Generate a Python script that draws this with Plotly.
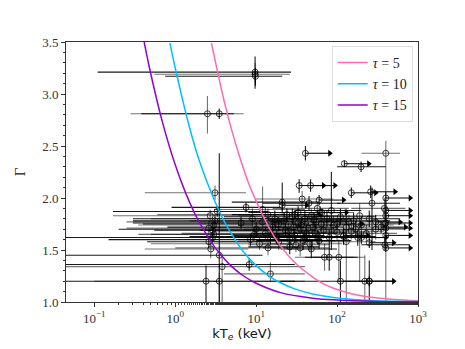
import plotly.graph_objects as go

# model curves
tau5_kte = [2.8, 3, 4, 5, 6, 8, 10, 15, 20, 30, 50, 70, 100, 150, 200, 300, 500, 1000]
tau5_gam = [3.49, 3.38, 2.94, 2.65, 2.44, 2.15, 1.97, 1.69, 1.54, 1.38, 1.24, 1.17, 1.12, 1.08, 1.06, 1.04, 1.025, 1.013]
tau10_kte = [0.86, 1, 1.5, 2, 3, 4, 5, 7, 10, 15, 20, 30, 50, 100, 200, 500, 1000]
tau10_gam = [3.49, 3.25, 2.68, 2.35, 1.99, 1.78, 1.65, 1.48, 1.35, 1.24, 1.185, 1.126, 1.077, 1.039, 1.02, 1.008, 1.004]
tau15_kte = [0.413, 0.5, 0.7, 1, 1.5, 2, 3, 4, 5, 7, 10, 20, 50, 100, 300, 1000]
tau15_gam = [3.5, 3.19, 2.72, 2.32, 1.96, 1.76, 1.54, 1.42, 1.34, 1.25, 1.18, 1.09, 1.037, 1.019, 1.006, 1.002]

# measured points: kTe with lower/upper bound, Gamma with lower/upper bound
det_kte = [9.7, 9.7, 9.8, 2.5, 3.5,
           3.1, 3.3, 2.7, 3.1, 2.6, 2.9, 3.0, 2.6, 2.75, 3.5, 3.8, 2.4, 3.5, 2.9, 3.0,
           7.5, 12, 21, 37, 45, 14, 17, 22, 28, 33, 40, 48, 55, 62, 75, 90, 110, 130, 160, 200,
           250, 300, 10, 13, 16, 25, 30, 35, 42, 50, 58, 68, 80, 100, 120, 150, 180, 230, 8.5, 11,
           15, 19, 26, 31, 38, 46, 60, 14, 26, 35, 48, 70, 80, 105, 8.2, 15, 110, 220, 250, 130,
           85, 400, 198, 190, 270, 385, 390, 390, 6.5, 9,
           36, 44, 52, 29, 23, 64, 19, 12, 40, 53, 33, 57, 24, 9.5, 18, 140, 170]
det_kte_lo = [0.11, 0.55, 0.75, 0.28, 0.38,
              0.42, 0.17, 0.17, 0.3, 0.25, 0.55, 0.5, 0.45, 0.42, 0.02, 0.02, 0.02, 0.1, 0.02, 0.35,
              0.9, 3, 5, 10, 12, 0.6, 0.3, 1.5, 4, 2, 8, 6, 15, 20, 25, 30, 40, 50, 60, 80,
              100, 120, 0.2, 1.2, 0.8, 3, 5, 7, 9, 12, 16, 20, 25, 30, 40, 50, 70, 90, 0.15, 0.5,
              2, 3, 6, 8, 10, 12, 15, 1, 8, 12, 20, 30, 40, 50, 0.02, 4, 20, 100, 120, 40,
              30, 200, 100, 60, 100, 150, 200, 200, 0.3, 0.5,
              6, 10, 14, 3, 2, 18, 0.4, 0.25, 9, 13, 8, 16, 5, 0.35, 1.5, 50, 60]
det_kte_hi = [27, 26, 21, 7.0, 5.3,
              7.5, 14, 9, 25, 12, 20, 30, 15, 8, 12, 40, 30, 40, 25, 9,
              20, 40, 60, 90, 110, 30, 45, 50, 70, 80, 100, 120, 140, 160, 200, 250, 300, 400, 450, 500,
              600, 700, 30, 35, 40, 60, 70, 85, 100, 120, 140, 170, 200, 250, 300, 380, 420, 550, 25, 30,
              40, 50, 65, 80, 95, 115, 150, 35, 60, 80, 100, 160, 180, 220, 30, 40, 260, 500, 500, 300,
              200, 600, 400, 450, 600, 700, 800, 700, 20, 25,
              90, 100, 130, 75, 55, 150, 45, 30, 100, 130, 80, 140, 60, 22, 45, 350, 420]
det_gam = [3.21, 3.19, 3.17, 2.81, 2.81,
           2.05, 1.87, 1.83, 1.78, 1.71, 1.69, 1.65, 1.58, 1.51, 1.45, 1.34, 1.2, 1.2, 1.62, 1.74,
           1.91, 1.89, 1.96, 1.99, 1.95, 1.84, 1.80, 1.78, 1.82, 1.76, 1.80, 1.83, 1.77, 1.86, 1.80, 1.74, 1.82, 1.72, 1.78, 1.74,
           1.80, 1.70, 1.70, 1.66, 1.72, 1.68, 1.64, 1.70, 1.66, 1.72, 1.63, 1.69, 1.62, 1.67, 1.63, 1.68, 1.62, 1.66, 1.60, 1.56,
           1.62, 1.58, 1.60, 1.55, 1.59, 1.56, 1.59, 1.52, 1.53, 1.52, 1.51, 1.43, 1.43, 1.43, 1.36, 1.27, 1.2, 1.2, 1.2, 1.58,
           1.88, 2.43, 2.30, 1.83, 1.95, 1.9, 1.55, 1.75, 1.76, 1.80,
           1.74, 1.71, 1.79, 1.72, 1.69, 1.75, 1.75, 1.77, 1.62, 1.67, 1.86, 1.90, 1.84, 1.65, 1.63, 1.77, 1.70]
det_gam_lo = [3.05, 3.10, 3.08, 2.62, 2.76,
              1.98, 1.82, 1.77, 1.72, 1.65, 1.63, 1.58, 1.52, 1.42, 1.0, 1.0, 1.0, 1.0, 1.57, 1.69,
              1.86, 1.80, 1.85, 1.90, 1.88, 1.78, 1.72, 1.70, 1.75, 1.68, 1.73, 1.76, 1.70, 1.80, 1.72, 1.65, 1.74, 1.60, 1.70, 1.65,
              1.72, 1.60, 1.63, 1.60, 1.66, 1.60, 1.57, 1.62, 1.58, 1.64, 1.55, 1.61, 1.55, 1.59, 1.55, 1.60, 1.54, 1.58, 1.54, 1.50,
              1.55, 1.50, 1.52, 1.48, 1.50, 1.48, 1.51, 1.45, 1.46, 1.44, 1.42, 1.30, 1.30, 1.20, 1.30, 1.20, 1.0, 1.0, 1.0, 1.0,
              1.50, 1.0, 2.25, 1.20, 1.50, 1.80, 1.50, 1.70, 1.70, 1.72,
              1.66, 1.64, 1.72, 1.64, 1.62, 1.68, 1.68, 1.70, 1.55, 1.60, 1.80, 1.84, 1.78, 1.58, 1.56, 1.70, 1.62]
det_gam_hi = [3.36, 3.30, 3.25, 2.98, 2.86,
              2.12, 1.92, 1.89, 1.84, 1.78, 1.76, 1.72, 1.64, 1.58, 2.43, 1.45, 1.35, 1.28, 1.67, 1.79,
              1.96, 2.11, 2.15, 2.07, 2.02, 1.90, 1.88, 1.86, 1.90, 1.84, 1.88, 1.90, 1.85, 1.92, 1.88, 1.83, 1.90, 1.85, 1.86, 1.83,
              1.88, 1.80, 1.77, 1.72, 1.80, 1.76, 1.71, 1.78, 1.74, 1.80, 1.70, 1.77, 1.70, 1.75, 1.71, 1.76, 1.70, 1.74, 1.66, 1.62,
              1.70, 1.66, 1.68, 1.62, 1.68, 1.64, 1.67, 1.58, 1.60, 1.60, 1.58, 1.56, 1.55, 1.60, 1.42, 1.38, 1.40, 1.45, 1.40, 1.90,
              2.25, 2.55, 2.35, 1.95, 2.10, 2.00, 1.60, 1.80, 1.82, 1.90,
              1.82, 1.78, 1.86, 1.80, 1.76, 1.82, 1.82, 1.84, 1.69, 1.74, 1.92, 1.96, 1.90, 1.72, 1.70, 1.84, 1.78]

# lower limits on kTe
lim_kte = [40.6, 123, 34, 47, 150, 260, 400, 400, 400, 400, 400, 400, 400, 350, 300, 21, 60, 250, 200, 120, 30, 65, 100, 250]
lim_gam = [2.43, 2.33, 2.12, 2.12, 2.05, 2.06, 2.00, 1.88, 1.83, 1.76, 1.71, 1.64, 1.52, 1.72, 1.77, 1.93, 1.98, 1.20, 1.62, 1.64, 1.84, 1.86, 1.75, 1.57]
lim_gam_lo = [2.36, 2.30, 2.05, 2.06, 2.00, 2.00, 1.95, 1.82, 1.78, 1.70, 1.66, 1.58, 1.48, 1.66, 1.70, 1.88, 1.93, 1.15, 1.56, 1.58, 1.80, 1.82, 1.70, 1.52]
lim_gam_hi = [2.50, 2.36, 2.18, 2.18, 2.10, 2.12, 2.06, 1.95, 1.90, 1.82, 1.76, 1.70, 1.58, 1.78, 1.84, 1.98, 2.03, 1.25, 1.68, 1.70, 1.88, 1.90, 1.80, 1.62]

x_ticks = [0.1, 1, 10, 100, 1000]
x_tick_labels = ["10<sup>−1</sup>", "10<sup>0</sup>", "10<sup>1</sup>", "10<sup>2</sup>", "10<sup>3</sup>"]

ARROW = 2.0
SERIF = "'Liberation Serif', 'DejaVu Serif', serif"
SANS = "'DejaVu Sans', sans-serif"


def segments(x0, x1, y0, y1):
    xs, ys = [], []
    for a, b, c, d in zip(x0, x1, y0, y1):
        xs += [a, b, None]
        ys += [c, d, None]
    return xs, ys


fig = go.Figure()

# error bars: split into darker / lighter groups like the original
for k, col in [(0, "rgba(0,0,0,0.9)"), (1, "rgba(0,0,0,0.55)")]:
    idx = [i for i in range(len(det_kte)) if i % 2 == k]
    hx, hy = segments([det_kte_lo[i] for i in idx], [det_kte_hi[i] for i in idx],
                      [det_gam[i] for i in idx], [det_gam[i] for i in idx])
    vx, vy = segments([det_kte[i] for i in idx], [det_kte[i] for i in idx],
                      [det_gam_lo[i] for i in idx], [det_gam_hi[i] for i in idx])
    fig.add_trace(go.Scatter(x=hx + vx, y=hy + vy, mode="lines",
                             line=dict(color=col, width=1.1), showlegend=False, hoverinfo="skip"))

# lower limits: vertical bar + arrow to the right
lvx, lvy = segments(lim_kte, lim_kte, lim_gam_lo, lim_gam_hi)
lax, lay = segments(lim_kte, [v * ARROW for v in lim_kte], lim_gam, lim_gam)
fig.add_trace(go.Scatter(x=lvx + lax, y=lvy + lay, mode="lines",
                         line=dict(color="rgba(0,0,0,0.9)", width=1.1), showlegend=False, hoverinfo="skip"))
fig.add_trace(go.Scatter(x=[v * ARROW for v in lim_kte], y=lim_gam, mode="markers",
                         marker=dict(symbol="triangle-right", size=6, color="black"),
                         showlegend=False, hoverinfo="skip"))

# circles
fig.add_trace(go.Scatter(x=det_kte + lim_kte, y=det_gam + lim_gam, mode="markers",
                         marker=dict(symbol="circle", size=6, color="rgba(255,255,255,0)",
                                     line=dict(color="rgba(0,0,0,0.75)", width=1)),
                         showlegend=False))

# model curves
for kte, gam, col, name in [(tau5_kte, tau5_gam, "#ff69b4", "<i>τ</i> = 5"),
                            (tau10_kte, tau10_gam, "#00bfff", "<i>τ</i> = 10"),
                            (tau15_kte, tau15_gam, "#9400d3", "<i>τ</i> = 15")]:
    fig.add_trace(go.Scatter(x=kte, y=gam, mode="lines", name=name,
                             line=dict(color=col, width=1.5, shape="spline")))

axis_common = dict(showline=True, linecolor="#333", linewidth=1, mirror=True,
                   showgrid=False, zeroline=False, ticks="outside", ticklen=4, tickcolor="#333",
                   tickfont=dict(family=SERIF, size=13, color="#333"))

fig.update_xaxes(type="log", range=[-1.35, 3], tickvals=x_ticks, ticktext=x_tick_labels,
                 minor=dict(ticks="outside", ticklen=2, tickcolor="#333", showgrid=False),
                 title=dict(text="kT<sub><i>e</i></sub> (keV)", standoff=2,
                            font=dict(family=SANS, size=13, color="#111")),
                 **axis_common)
fig.update_yaxes(range=[1.0, 3.5], dtick=0.5, tickformat=".1f",
                 minor=dict(ticks="outside", ticklen=2, tickcolor="#333", dtick=0.1),
                 title=dict(text="Γ", standoff=12, font=dict(family=SERIF, size=15, color="#111")),
                 **axis_common)

# page body adds an 8px offset, so the figure is drawn 8px smaller
fig.update_layout(width=457, height=341, margin=dict(l=50, r=47, t=34, b=44),
                  plot_bgcolor="white", paper_bgcolor="white",
                  legend=dict(x=0.985, y=0.985, xanchor="right", yanchor="top",
                              bgcolor="rgba(255,255,255,0.8)", bordercolor="#ddd", borderwidth=1,
                              font=dict(family=SERIF, size=14, color="#222"),
                              tracegroupgap=0, itemwidth=30))

fig.write_html("out.html")
